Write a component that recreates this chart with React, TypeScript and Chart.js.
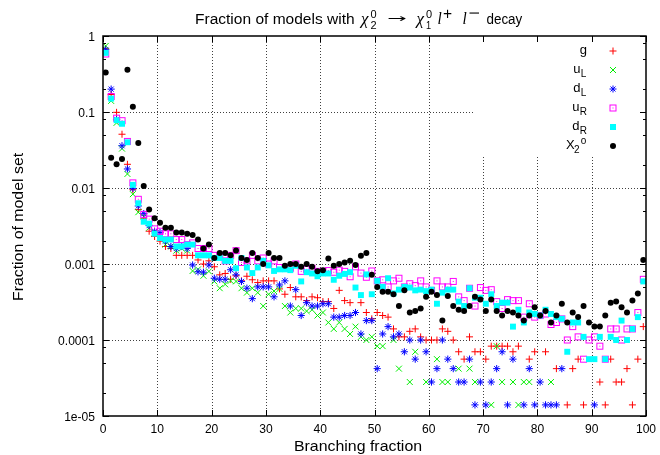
import React, { useEffect, useRef } from 'react';
import { Chart, registerables } from 'chart.js';
Chart.register(...registerables);

const binCenters = [
  0.5, 1.5, 2.5, 3.5, 4.5, 5.5, 6.5, 7.5, 8.5, 9.5,
  10.5, 11.5, 12.5, 13.5, 14.5, 15.5, 16.5, 17.5, 18.5, 19.5,
  20.5, 21.5, 22.5, 23.5, 24.5, 25.5, 26.5, 27.5, 28.5, 29.5,
  30.5, 31.5, 32.5, 33.5, 34.5, 35.5, 36.5, 37.5, 38.5, 39.5,
  40.5, 41.5, 42.5, 43.5, 44.5, 45.5, 46.5, 47.5, 48.5, 49.5,
  50.5, 51.5, 52.5, 53.5, 54.5, 55.5, 56.5, 57.5, 58.5, 59.5,
  60.5, 61.5, 62.5, 63.5, 64.5, 65.5, 66.5, 67.5, 68.5, 69.5,
  70.5, 71.5, 72.5, 73.5, 74.5, 75.5, 76.5, 77.5, 78.5, 79.5,
  80.5, 81.5, 82.5, 83.5, 84.5, 85.5, 86.5, 87.5, 88.5, 89.5,
  90.5, 91.5, 92.5, 93.5, 94.5, 95.5, 96.5, 97.5, 98.5, 99.5,
];

const gValues = [
  0.68, 0.17, 0.099, 0.051, 0.0205, 0.0095, 0.0052, 0.004, 0.0027, 0.0023,
  0.002, 0.0017, 0.0016, 0.0013, 0.0013, 0.0013, 0.0013, 0.00113, 0.001, 0.0011,
  0.00092, 0.00072, 0.00075, 0.00063, 0.0007, 0.0006, 0.00069, 0.00062, 0.00057, 0.0006,
  0.0006, 0.0006, 0.00047, 0.0004, 0.00049, 0.00037, 0.00037, 0.00033, 0.00037, 0.00036,
  0.00032, 0.00032, 0.00026, 0.00045, 0.00033, 0.00031, 0.00023, 0.00031, 0.00023, 0.00019,
  0.00023, 0.00021, 0.0002, 0.00014, 0.00011, 0.00011, 0.00013, 0.00014, 0.00011, 0.0001,
  0.0001, 0.0001, 0.00014, 0.00013, 0.0001, 0.00007, 0.000056, 0.00011, 0.00007, 0.00007,
  0.000056, 0.000083, 0.000083, 0.000083, 0.000083, 0.00007, 0.000083, null, 0.000056, 0.00007,
  null, 0.00007, null, 0.000042, null, 0.000014, 0.000042, 0.000056, 0.000014, null,
  null, 0.000028, 0.000014, 0.000056, 0.000028, 0.000028, 0.000042, 0.000014, 0.000056, 0.00015,
];

const uLValues = [
  0.74, 0.14, 0.072, 0.033, 0.0153, 0.0083, 0.0048, 0.0042, 0.003, 0.0026,
  0.0022, 0.0018, 0.0017, 0.0015, 0.0016, 0.0015, 0.00081, 0.00085, 0.0007, 0.0008,
  0.00059, 0.00048, 0.00054, 0.0006, 0.00059, 0.00048, 0.00042, 0.00048, 0.00042, 0.00028,
  0.0004, 0.00044, 0.00047, 0.00028, 0.00023, 0.00026, 0.00026, 0.00024, 0.00025, 0.00021,
  0.00023, 0.00017, 0.00014, 0.00017, 0.00014, 0.00012, 0.00015, 0.00011, 0.0001, 0.00011,
  0.000083, 0.000083, null, 0.0001, 0.000042, null, 0.000028, 0.00007, null, 0.000028,
  null, 0.000056, 0.000028, 0.000028, null, 0.000042, null, 0.000042, 0.000028, null,
  null, 0.000014, 0.000083, 0.000028, null, 0.000028, 0.000014, 0.000028, 0.000028, null,
  null, null, 0.000028, null, null, null, null, null, null, null,
  null, null, null, null, null, null, null, null, null, null,
];

const dLValues = [
  0.66, 0.2, 0.08, 0.036, 0.0178, 0.0099, 0.0058, 0.0046, 0.0032, 0.0027,
  0.0026, 0.002, 0.0017, 0.0016, 0.0017, 0.0016, 0.00097, 0.00079, 0.00078, 0.00097,
  0.00065, 0.00063, 0.00063, 0.00084, 0.00072, 0.00059, 0.00048, 0.00035, 0.0005, 0.0005,
  0.0005, 0.00037, 0.00053, 0.0006, 0.00028, 0.00046, 0.00021, 0.00031, 0.00028, 0.00028,
  0.0003, 0.0003, 0.0002, 0.0002, 0.00021, 0.00021, 0.00023, 0.00012, 0.00018, 0.00018,
  0.000042, 0.00012, 0.00015, 0.00011, 0.00012, 0.00007, 0.0001, 0.000056, 0.0001, 0.00007,
  0.000028, 0.000042, 0.0001, 0.000056, 0.000042, 0.000028, 0.000028, 0.000056, 0.000014, 0.000028,
  0.000014, 0.000028, 0.000042, 0.00007, 0.000014, 0.000056, null, 0.000014, 0.000042, 0.000014,
  0.000028, 0.000014, 0.000014, 0.000014, 0.000042, null, null, null, null, null,
  0.000014, null, null, null, null, null, null, null, null, null,
];

const uRValues = [
  0.58, 0.16, 0.083, 0.077, 0.041, 0.0117, 0.0071, 0.0045, 0.0039, 0.0029,
  0.0027, 0.0025, 0.0025, 0.0021, 0.0021, 0.0018, 0.0019, 0.0016, 0.0016, 0.0016,
  0.0013, 0.0013, 0.0011, 0.0013, 0.0015, 0.00105, 0.0011, 0.0013, 0.0011, 0.0012,
  0.001, 0.0011, 0.0009, 0.0009, 0.00088, 0.001, 0.0008, 0.00085, 0.00088, 0.0008,
  0.0008, 0.00082, 0.00078, 0.00083, 0.0008, 0.00068, 0.00092, 0.00076, 0.00067, 0.00081,
  0.0006, 0.00062, 0.0005, 0.0006, 0.00065, 0.0005, 0.00055, 0.00052, 0.0006, 0.0005,
  0.00045, 0.0006, 0.0005, 0.0005, 0.00059, 0.00037, 0.00033, 0.00048, 0.00028, 0.00049,
  0.00045, 0.00046, 0.00032, 0.00026, 0.00034, 0.00033, 0.00033, 0.0002, 0.0003, 0.0002,
  0.00021, 0.00022, 0.00016, 0.00017, 0.00019, 0.0001, 0.00015, 0.00011, 0.000056, 0.0001,
  0.00011, 0.000083, 0.000056, 0.00014, 0.00014, 0.0001, 0.00014, 0.00014, 0.00023, 0.00063,
];

const dRValues = [
  0.6, 0.15, 0.078, 0.07, 0.04, 0.011, 0.0063, 0.0036, 0.0034, 0.0025,
  0.0022, 0.0021, 0.0021, 0.0017, 0.0017, 0.0018, 0.0018, 0.0013, 0.0013, 0.0013,
  0.0012, 0.0012, 0.0011, 0.0011, 0.00088, 0.0012, 0.0009, 0.00076, 0.0009, 0.0011,
  0.00096, 0.00081, 0.00085, 0.00085, 0.00083, 0.00095, 0.00059, 0.00078, 0.00075, 0.00069,
  0.00075, 0.00075, 0.00062, 0.0007, 0.00074, 0.00078, 0.00049, 0.00039, 0.00073, 0.0004,
  0.0006, 0.0005, 0.00065, 0.00041, 0.00046, 0.0005, 0.00049, 0.00045, 0.00046, 0.00044,
  0.00046, 0.0003, 0.00042, 0.00046, 0.00046, 0.00032, 0.00028, 0.00048, 0.00036, 0.00036,
  0.0003, 0.0004, 0.00028, 0.00031, 0.00031, 0.00015, 0.00025, 0.00017, 0.00023, 0.00022,
  0.00021, 0.00025, 0.00022, 0.0002, 0.00019, 0.00007, 0.00017, 0.00017, 0.00011, 0.000056,
  0.000056, 0.00011, 0.000056, 0.00011, 0.0001, 0.00018, 0.0001, 0.00014, 0.0002, 0.00059,
];

const chi2Values = [
  0.33, 0.025, 0.0205, 0.024, 0.36, 0.117, 0.039, 0.0106, 0.0052, 0.004,
  0.0035, 0.003, 0.003, 0.0026, 0.0026, 0.0025, 0.0024, 0.0021, 0.0016, 0.0018,
  0.0012, 0.0014, 0.0014, 0.0013, 0.0015, 0.0012, 0.00113, 0.0014, 0.0012, 0.001,
  0.0014, 0.0012, 0.0012, 0.00095, 0.001, 0.001, 0.00092, 0.001, 0.00092, 0.0008,
  0.00083, 0.00118, 0.00095, 0.001, 0.00105, 0.0011, 0.00097, 0.00128, 0.0014, 0.00072,
  0.0005, 0.00043, 0.00043, 0.0004, 0.00028, 0.00045, 0.00023, 0.00024, 0.00026, 0.00037,
  0.00043, 0.00039, 0.00018, 0.00038, 0.00028, 0.00025, 0.00024, 0.00028, 0.00037, 0.00034,
  0.00024, 0.00034, 0.00024, 0.00021, 0.00024, 0.00023, 0.00021, 0.00018, 0.00021, 0.00027,
  0.00021, 0.00024, 0.00017, 0.00021, 0.0003, 0.00017, 0.00023, 0.0002, 0.00028, 0.00017,
  0.00015, 0.00015, 0.00021, 0.00031, 0.00032, 0.00027, 0.00023, 0.00033, 0.00041, 0.00113,
];

const yTickValues = [1, 0.1, 0.01, 0.001, 0.0001, 0.00001];
const yTickLabels = ['1', '0.1', '0.01', '0.001', '0.0001', '1e-05'];
const yMinorFactors = [2, 5, 8];
const xTickValues = [0, 10, 20, 30, 40, 50, 60, 70, 80, 90, 100];
const xTickLabels = ['0', '10', '20', '30', '40', '50', '60', '70', '80', '90', '100'];

const legendEntries = [
  { main: 'g', sub: '', sup: '' },
  { main: 'u', sub: 'L', sup: '' },
  { main: 'd', sub: 'L', sup: '' },
  { main: 'u', sub: 'R', sup: '' },
  { main: 'd', sub: 'R', sup: '' },
  { main: 'X', sub: '2', sup: 'o' },
];

const SANS = '"Liberation Sans", Arimo, Arial, Helvetica, sans-serif';
const SERIF = '"Liberation Serif", "DejaVu Serif", serif';

const RED = '#ff0000';
const GREEN = '#00ee00';
const BLUE = '#0000ff';
const MAGENTA = '#ff00ff';
const CYAN = '#00ffff';
const BLACK = '#000000';

function makeOpenSquare(): HTMLCanvasElement {
  const c = document.createElement('canvas');
  c.width = 9;
  c.height = 9;
  const x = c.getContext('2d')!;
  x.strokeStyle = MAGENTA;
  x.lineWidth = 1;
  x.strokeRect(1.5, 1.5, 6, 6);
  x.fillStyle = MAGENTA;
  x.fillRect(4, 4, 1, 1);
  return c;
}

function pts(vals: (number | null)[]) {
  const out: { x: number; y: number }[] = [];
  vals.forEach((v, i) => {
    if (v !== null) out.push({ x: binCenters[i], y: v });
  });
  return out;
}

const LEG_LEFT = 473;
const LEG_BOTTOM = 157;

function drawMarker(ctx: CanvasRenderingContext2D, kind: number, x: number, y: number, sq: HTMLCanvasElement) {
  ctx.save();
  ctx.lineWidth = 1;
  if (kind === 0) {
    ctx.strokeStyle = RED;
    ctx.beginPath();
    ctx.moveTo(x - 3.5, y); ctx.lineTo(x + 3.5, y);
    ctx.moveTo(x, y - 3.5); ctx.lineTo(x, y + 3.5);
    ctx.stroke();
  } else if (kind === 1) {
    ctx.strokeStyle = GREEN;
    ctx.beginPath();
    ctx.moveTo(x - 3, y - 3); ctx.lineTo(x + 3, y + 3);
    ctx.moveTo(x - 3, y + 3); ctx.lineTo(x + 3, y - 3);
    ctx.stroke();
  } else if (kind === 2) {
    ctx.strokeStyle = BLUE;
    ctx.beginPath();
    ctx.moveTo(x - 3.5, y); ctx.lineTo(x + 3.5, y);
    ctx.moveTo(x, y - 3.5); ctx.lineTo(x, y + 3.5);
    ctx.moveTo(x - 2.5, y - 2.5); ctx.lineTo(x + 2.5, y + 2.5);
    ctx.moveTo(x - 2.5, y + 2.5); ctx.lineTo(x + 2.5, y - 2.5);
    ctx.stroke();
  } else if (kind === 3) {
    ctx.drawImage(sq, Math.round(x) - 4.5, Math.round(y) - 4.5);
  } else if (kind === 4) {
    ctx.fillStyle = CYAN;
    ctx.fillRect(x - 3, y - 3, 6, 6);
  } else {
    ctx.fillStyle = BLACK;
    ctx.beginPath();
    ctx.arc(x, y, 3, 0, Math.PI * 2);
    ctx.fill();
  }
  ctx.restore();
}

function textInkWidth(ctx: CanvasRenderingContext2D, text: string, font: string, x0: number, y: number, inkW: number) {
  ctx.save();
  ctx.font = font;
  ctx.textAlign = 'left';
  ctx.textBaseline = 'alphabetic';
  const m = ctx.measureText(text);
  const w = m.actualBoundingBoxLeft + m.actualBoundingBoxRight;
  const sx = inkW / w;
  ctx.translate(x0 + m.actualBoundingBoxLeft * sx, y);
  ctx.scale(sx, 1);
  ctx.fillText(text, 0, 0);
  ctx.restore();
}

function glyphBox(ctx: CanvasRenderingContext2D, text: string, font: string, x0: number, y0: number, x1: number, y1: number) {
  ctx.save();
  ctx.font = font;
  ctx.textAlign = 'left';
  ctx.textBaseline = 'alphabetic';
  const m = ctx.measureText(text);
  const w = m.actualBoundingBoxLeft + m.actualBoundingBoxRight;
  const h = m.actualBoundingBoxAscent + m.actualBoundingBoxDescent;
  const sx = (x1 - x0) / w;
  const sy = (y1 - y0) / h;
  ctx.translate(x0 + m.actualBoundingBoxLeft * sx, y0 + m.actualBoundingBoxAscent * sy);
  ctx.scale(sx, sy);
  ctx.fillText(text, 0, 0);
  ctx.restore();
}

export default function App() {
  const ref = useRef<HTMLCanvasElement>(null);

  useEffect(() => {
    document.body.style.margin = '0';
    const canvas = ref.current!;
    const openSquare = makeOpenSquare();

    const decor = {
      id: 'gnuplotDecor',
      beforeDatasetsDraw(chart: any) {
        const { ctx, chartArea: a, scales } = chart;
        const xs = scales.x, ys = scales.y;
        ctx.save();
        ctx.strokeStyle = 'rgba(0,0,0,0.75)';
        ctx.lineWidth = 1;
        ctx.setLineDash([1, 2]);
        xTickValues.forEach((v) => {
          if (v === 0 || v === 100) return;
          const px = Math.round(xs.getPixelForValue(v)) + 0.5;
          const top = px > LEG_LEFT ? LEG_BOTTOM : a.top;
          ctx.beginPath();
          ctx.moveTo(px, top);
          ctx.lineTo(px, a.bottom);
          ctx.stroke();
        });
        yTickValues.forEach((v) => {
          if (v === 1 || v === 0.00001) return;
          const py = Math.round(ys.getPixelForValue(v)) + 0.5;
          const right = py < LEG_BOTTOM ? LEG_LEFT : a.right;
          ctx.beginPath();
          ctx.moveTo(a.left, py);
          ctx.lineTo(right, py);
          ctx.stroke();
        });
        ctx.restore();
      },
      afterDatasetsDraw(chart: any) {
        const { ctx, chartArea: a, scales } = chart;
        const xs = scales.x, ys = scales.y;
        ctx.save();
        ctx.strokeStyle = '#000';
        ctx.lineWidth = 1;
        ctx.setLineDash([]);
        ctx.beginPath();
        xTickValues.forEach((v) => {
          const px = Math.round(xs.getPixelForValue(v)) + 0.5;
          ctx.moveTo(px, a.bottom); ctx.lineTo(px, a.bottom - 6);
          ctx.moveTo(px, a.top); ctx.lineTo(px, a.top + 6);
        });
        yTickValues.forEach((v) => {
          const py = Math.round(ys.getPixelForValue(v)) + 0.5;
          ctx.moveTo(a.left, py); ctx.lineTo(a.left + 6, py);
          ctx.moveTo(a.right, py); ctx.lineTo(a.right - 6, py);
          if (v < 1) {
            yMinorFactors.forEach((f) => {
              const pm = Math.round(ys.getPixelForValue(v * f)) + 0.5;
              ctx.moveTo(a.left, pm); ctx.lineTo(a.left + 3, pm);
              ctx.moveTo(a.right, pm); ctx.lineTo(a.right - 3, pm);
            });
          }
        });
        ctx.stroke();
        ctx.lineWidth = 1.5;
        ctx.strokeRect(a.left, a.top, a.right - a.left, a.bottom - a.top);
        ctx.restore();
      },
      afterDraw(chart: any) {
        const { ctx, chartArea: a, scales } = chart;
        const xs = scales.x, ys = scales.y;
        ctx.save();
        ctx.fillStyle = '#000';
        ctx.textBaseline = 'alphabetic';

        const tickFont = `13px ${SANS}`;
        ctx.font = tickFont;
        const mref = ctx.measureText('0.0001');
        const tsx = 36.7 / (mref.actualBoundingBoxLeft + mref.actualBoundingBoxRight);
        yTickValues.forEach((v, i) => {
          const py = ys.getPixelForValue(v);
          ctx.save();
          ctx.font = tickFont;
          ctx.textAlign = 'right';
          ctx.translate(95, py + 4.7);
          ctx.scale(tsx, 1);
          ctx.fillText(yTickLabels[i], 0, 0);
          ctx.restore();
        });
        xTickValues.forEach((v, i) => {
          const px = xs.getPixelForValue(v);
          ctx.save();
          ctx.font = tickFont;
          ctx.textAlign = 'center';
          ctx.translate(px, 433);
          ctx.scale(tsx, 1);
          ctx.fillText(xTickLabels[i], 0, 0);
          ctx.restore();
        });

        // title
        textInkWidth(ctx, 'Fraction of models with', `15.5px ${SANS}`, 196, 24, 158);
        const chiFont = `italic 17px ${SERIF}`;
        const scrFont = `11px ${SANS}`;
        glyphBox(ctx, '\u03c7', chiFont, 359, 16, 369, 28.5);
        glyphBox(ctx, '0', scrFont, 370.5, 10, 376.5, 18.3);
        glyphBox(ctx, '2', scrFont, 370.5, 21, 376.5, 29.3);
        glyphBox(ctx, '\u2192', `15px "DejaVu Sans", ${SANS}`, 387, 16.5, 405.5, 21.7);
        glyphBox(ctx, '\u03c7', chiFont, 414.5, 16, 424.5, 28.5);
        glyphBox(ctx, '0', scrFont, 426, 10, 432, 18.3);
        glyphBox(ctx, '1', scrFont, 426, 21, 431, 29.3);
        glyphBox(ctx, 'l', `italic 17px ${SERIF}`, 437.5, 11.5, 442, 24);
        glyphBox(ctx, '+', scrFont, 443, 9.5, 451.5, 18);
        glyphBox(ctx, 'l', `italic 17px ${SERIF}`, 462.5, 11.5, 467, 24);
        ctx.fillRect(469.5, 12.5, 9.5, 1.1);
        textInkWidth(ctx, 'decay', `15.5px ${SANS}`, 486.5, 24, 36);

        // axis titles
        textInkWidth(ctx, 'Branching fraction', `15px ${SANS}`, 295, 450.7, 126.7);
        ctx.save();
        ctx.translate(22.5, (a.top + a.bottom) / 2);
        ctx.rotate(-Math.PI / 2);
        textInkWidth(ctx, 'Fraction of model set', `15px ${SANS}`, -74, 0, 148);
        ctx.restore();

        // legend
        const rowY = [51, 70, 89, 108, 127, 146];
        const symX = 613;
        const mainFont = `13px ${SANS}`;
        const subFont = `10px ${SANS}`;
        legendEntries.forEach((e, i) => {
          const y = rowY[i];
          const mb = y + 2.5;
          ctx.textAlign = 'left';
          if (!e.sub) {
            ctx.font = mainFont;
            const m = ctx.measureText(e.main);
            ctx.fillText(e.main, 586.7 - m.actualBoundingBoxRight, mb);
          } else if (!e.sup) {
            ctx.font = subFont;
            const ms = ctx.measureText(e.sub);
            const subX = 586.7 - ms.actualBoundingBoxRight;
            ctx.fillText(e.sub, subX, mb + 4.5);
            const subInkLeft = subX - ms.actualBoundingBoxLeft;
            ctx.font = mainFont;
            const mm = ctx.measureText(e.main);
            ctx.fillText(e.main, subInkLeft - 0.5 - mm.actualBoundingBoxRight, mb);
          } else {
            ctx.font = subFont;
            const mp = ctx.measureText(e.sup);
            const supX = 586.7 - mp.actualBoundingBoxRight;
            ctx.fillText(e.sup, supX, mb - 5);
            const ms = ctx.measureText(e.sub);
            const subX = 580 - ms.actualBoundingBoxRight;
            ctx.fillText(e.sub, subX, mb + 4.5);
            ctx.font = mainFont;
            const mm = ctx.measureText(e.main);
            ctx.fillText(e.main, 575 - mm.actualBoundingBoxRight, mb);
          }
          drawMarker(ctx, i, symX, y, openSquare);
        });
        ctx.restore();
      },
    };

    const chart = new Chart(canvas, {
      type: 'scatter',
      data: {
        datasets: [
          { label: 'g', data: pts(gValues), pointStyle: 'cross', radius: 3.5, borderColor: RED, backgroundColor: RED, borderWidth: 1, order: 6 },
          { label: 'uL', data: pts(uLValues), pointStyle: 'crossRot', radius: 4.2, borderColor: GREEN, backgroundColor: GREEN, borderWidth: 1, order: 5 },
          { label: 'dL', data: pts(dLValues), pointStyle: 'star', radius: 3.6, borderColor: BLUE, backgroundColor: BLUE, borderWidth: 1, order: 4 },
          { label: 'uR', data: pts(uRValues), pointStyle: openSquare, radius: 4, borderColor: MAGENTA, backgroundColor: MAGENTA, borderWidth: 1, order: 3 },
          { label: 'dR', data: pts(dRValues), pointStyle: 'rect', radius: 4.2, borderColor: CYAN, backgroundColor: CYAN, borderWidth: 0, order: 2 },
          { label: 'chi2', data: pts(chi2Values), pointStyle: 'circle', radius: 3, borderColor: BLACK, backgroundColor: BLACK, borderWidth: 0, order: 1 },
        ] as any,
      },
      options: {
        animation: false,
        responsive: false,
        devicePixelRatio: 1,
        events: [],
        layout: { padding: { left: 0, right: 14, top: 36, bottom: 0 } },
        plugins: { legend: { display: false }, tooltip: { enabled: false }, title: { display: false } },
        scales: {
          x: {
            type: 'linear',
            min: 0,
            max: 100,
            grid: { display: false },
            border: { display: false },
            afterBuildTicks: (s: any) => { s.ticks = xTickValues.map((v) => ({ value: v })); },
            afterFit: (s: any) => { s.height = 39; },
            ticks: { display: false },
          },
          y: {
            type: 'logarithmic',
            min: 0.00001,
            max: 1,
            grid: { display: false },
            border: { display: false },
            afterBuildTicks: (s: any) => { s.ticks = yTickValues.map((v) => ({ value: v })); },
            afterFit: (s: any) => { s.width = 103; },
            ticks: { display: false },
          },
        },
      } as any,
      plugins: [decor],
    });
    return () => chart.destroy();
  }, []);

  return (
    <div style={{ width: 660, height: 455 }}>
      <canvas ref={ref} width={660} height={455} style={{ display: 'block' }} />
    </div>
  );
}
